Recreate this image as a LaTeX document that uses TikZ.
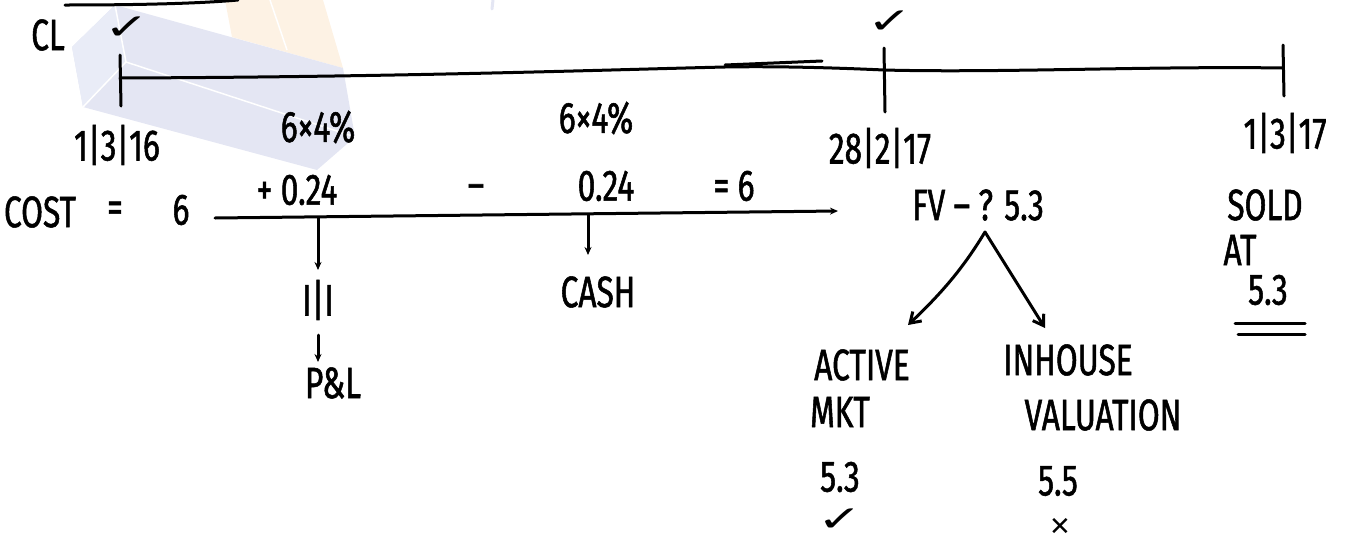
\documentclass[tikz,border=0pt]{standalone}
\usepackage{fontspec}
\setmainfont{Fira Sans}[FakeStretch=0.72, FakeBold=1.2]
\newfontfamily\symf{DejaVu Sans}[FakeStretch=1.5]
\newfontfamily\crossf{DejaVu Sans}
\usetikzlibrary{arrows.meta}
\definecolor{lav}{RGB}{228,230,243}
\definecolor{lavl}{RGB}{233,236,247}
\definecolor{org}{RGB}{253,242,228}
\tikzset{
  hw/.style={font=\fontsize{44}{48}\selectfont, inner sep=1pt},
  ck/.style={font=\symf\fontsize{36}{38}\selectfont, inner sep=0pt},
  cross/.style={font=\crossf\fontsize{26}{28}\selectfont, inner sep=0pt},
  pen/.style={line width=3pt, line cap=round, line join=round},
  arr/.style={pen, -{Stealth[length=8pt,width=7pt]}},
  barb/.style={pen, -{Straight Barb[length=10pt,width=13pt]}},
}
\begin{document}
\begin{tikzpicture}[x=1pt,y=-1pt]
\useasboundingbox (0,0) rectangle (1345,544);
% background watermark
\fill[org] (225,0) -- (323,0) -- (343,68) -- (232,37) -- cycle;
\draw[white, line width=1.5pt] (270,0) -- (287,50);
\fill[lav] (115,5) -- (343,68) -- (355,137) -- (317,170) -- (83,107) -- (72,47) -- cycle;
\fill[lavl] (115,5) -- (126,62) -- (83,107) -- (72,47) -- cycle;
\draw[white, line width=1.5pt] (115,5) -- (126,62) -- (83,107);
\draw[white, line width=1.5pt] (126,62) -- (355,137);
\draw[lav, line width=3pt, line cap=round] (493,0) -- (492,9);
% partial stroke at top
\draw[pen] (65,5) .. controls (150,5) and (205,3) .. (238,0);

% timeline
\coordinate (t0) at (120,78);
\coordinate (t1) at (884,70);
\coordinate (t2) at (1283,68);
\draw[pen] (t0) .. controls (400,77) and (600,70) .. (725,67) .. controls (780,66) and (840,68) .. (t1)
  .. controls (1000,73) and (1150,66) .. (t2);
\draw[pen] (725,65) -- (822,61);
\draw[pen] (120,55) -- (121,106);
\draw[pen] (884,48) -- (885,112);
\draw[pen] (1283,45) -- (1284,96);

% labels above
\node[hw] (cl) at (48,35) {CL};
\node[ck] (ck1) at (127,28) {✓};
\node[ck] (ck2) at (890,22) {✓};
\node[hw] (d1) at (117,145) {1|3|16};
\node[hw] (r1) at (318,127) {6×4\%};
\node[hw] (r2) at (596,118) {6×4\%};
\node[hw] (d2) at (880,148) {28|2|17};
\node[hw] (d3) at (1285,133) {1|3|17};

% cost line
\node[hw] (cost) at (40,212) {COST};
\node[hw] (eq1) at (115,212) {=};
\node[hw] (six) at (181,210) {6};
\node[hw] (plus) at (297,190) {+ 0.24};
\node[hw] (minus) at (476,192) {–};
\node[hw] (less) at (606,186) {0.24};
\node[hw] (eq6) at (734,186) {= 6};
\coordinate (a0) at (215,218);
\coordinate (a1) at (838,211);
\draw[arr] (a0) -- (a1);

\node[hw] (ii) at (318,300) {I|I};
\node[hw] (pl) at (333,383) {P\&L};
\node[hw] (cash) at (598,292) {CASH};
\coordinate (b1) at (318,218);
\coordinate (b2) at (588,215);
\draw[arr] (b1) -- (318,270);
\draw[arr] (b2) -- (588,255);
\draw[arr] (318,335) -- (318,362);

% fair value
\node[hw] (fv) at (978,205) {FV – ? 5.3};
\node[hw] (sold) at (1265,205) {SOLD};
\node[hw] (at) at (1240,250) {AT};
\node[hw] (sp) at (1268,290) {5.3};
\draw[pen] (1235,323) -- (1305,323);
\draw[pen] (1238,334) -- (1305,334);

\coordinate (ap) at (985,232);
\coordinate (e1) at (908,325);
\coordinate (e2) at (1045,328);
\draw[barb] (ap) .. controls (965,265) and (945,290) .. (e1);
\draw[barb] (ap) -- (e2);

\node[hw] (act) at (862,365) {ACTIVE};
\node[hw] (mkt) at (840,412) {MKT};
\node[hw] (v1) at (840,477) {5.3};
\node[ck] (ck3) at (840,520) {✓};
\node[hw] (inh) at (1068,360) {INHOUSE};
\node[hw] (val) at (1103,415) {VALUATION};
\node[hw] (v2) at (1058,481) {5.5};
\node[cross] (xx) at (1060,527) {✕};
\end{tikzpicture}
\end{document}
